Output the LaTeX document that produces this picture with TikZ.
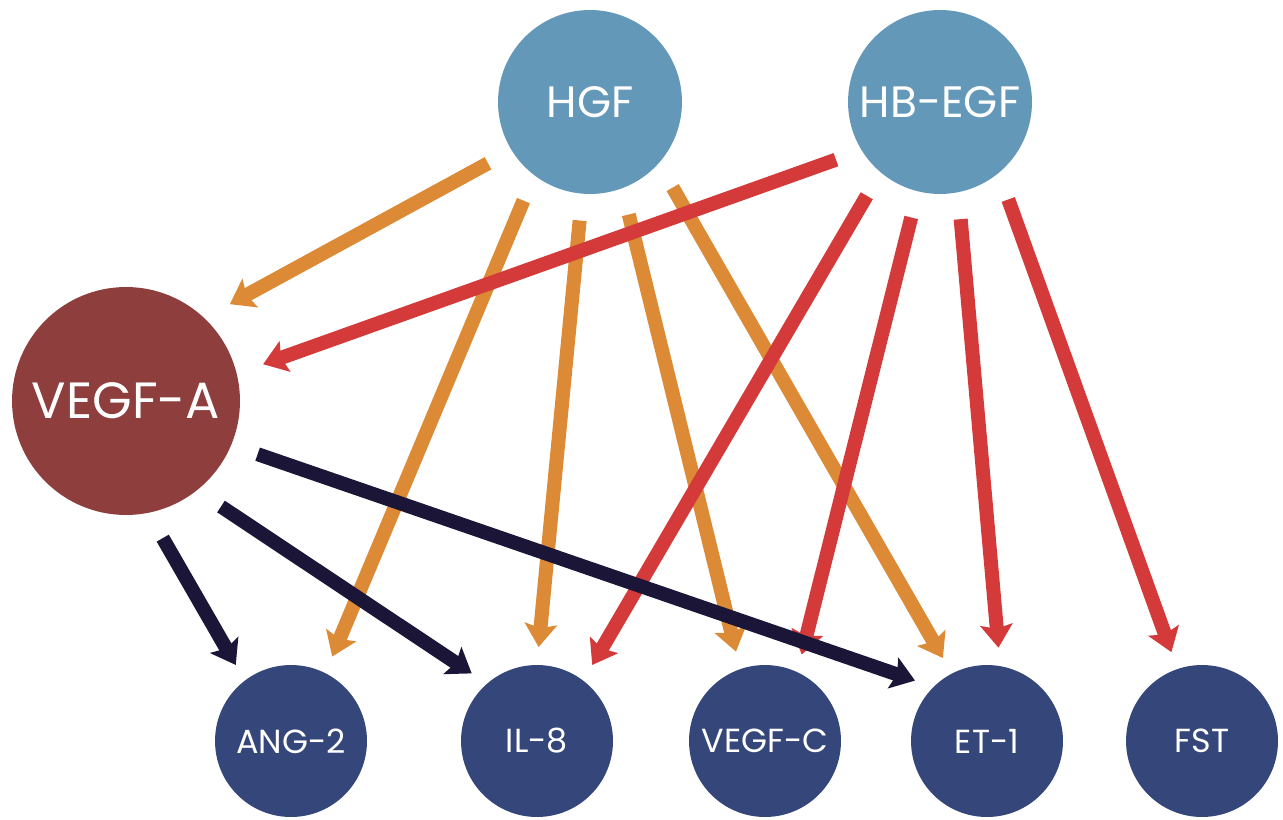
\documentclass[tikz,border=0pt]{standalone}
\usepackage{fontspec}
\setmainfont{Poppins}
\usepackage{tikz}
\usetikzlibrary{arrows.meta}

\definecolor{topblue}{HTML}{6498B8}
\definecolor{vegfred}{HTML}{8E3E3C}
\definecolor{lownavy}{HTML}{35477A}
\definecolor{hgforange}{HTML}{DC8A35}
\definecolor{egfred}{HTML}{D43A3A}
\definecolor{darknavy}{HTML}{1B1638}

\begin{document}
\begin{tikzpicture}[x=0.02cm, y=0.02cm,
    factor/.style={circle, fill=topblue, text=white, inner sep=0pt, minimum size=3.68cm, outer sep=0.54cm, font=\fontsize{25}{25}\selectfont},
    hub/.style={circle, fill=vegfred, text=white, inner sep=0pt, minimum size=4.56cm, outer sep=0.56cm, font=\fontsize{29}{29}\selectfont},
    target/.style={circle, fill=lownavy, text=white, inner sep=0pt, minimum size=3.04cm, outer sep=0.36cm, font=\fontsize{19}{19}\selectfont},
    link/.style={line width=0.28cm, -{Stealth[width=0.64cm, length=0.46cm, inset=0.08cm]}}
]
    % Frame of the picture
    \useasboundingbox (0,0) rectangle (1283,819);

    % Growth factors on top and VEGF-A on the left
    \node[factor] (hgf) at (590,717) {HGF};
    \node[factor] (hbegf) at (940,717) {HB-EGF};
    \node[hub] (vegfa) at (126,418) {VEGF-A};

    % Targets along the bottom
    \node[target] (ang) at (291,78) {ANG-2};
    \node[target] (il) at (537,78) {IL-8};
    \node[target] (vegfc) at (765,78) {VEGF-C};
    \node[target] (et) at (987,78) {ET-1};
    \node[target] (fst) at (1202,78) {FST};

    % Arrows from HGF
    \draw[link, hgforange] (hgf.211) -- (vegfa.43);
    \draw[link, hgforange] (hgf.236) -- (ang.64);
    \draw[link, hgforange] (hgf.265) -- (il.89);
    \draw[link, hgforange] (hgf.289) -- (vegfc.108);
    \draw[link, hgforange] (hgf.314) -- (et.118);

    % Arrows from HB-EGF
    \draw[link, egfred] (hbegf.209) -- (vegfa.15);
    \draw[link, egfred] (hbegf.232) -- (il.54);
    \draw[link, egfred] (hbegf.256) -- (vegfc.67);
    \draw[link, egfred] (hbegf.280) -- (et.83);
    \draw[link, egfred] (hbegf.305) -- (fst.109);

    % Arrows from VEGF-A
    \draw[link, darknavy] (vegfa.338) -- (et.140);
    \draw[link, darknavy] (vegfa.312) -- (il.134);
    \draw[link, darknavy] (vegfa.285) -- (ang.126);
\end{tikzpicture}
\end{document}
